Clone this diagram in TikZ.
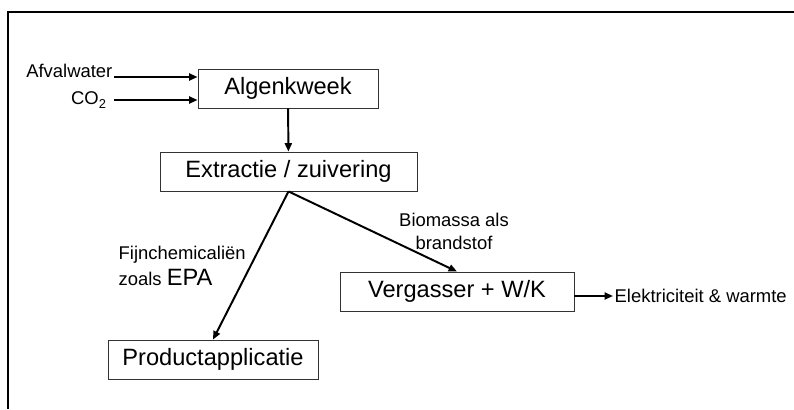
\documentclass[tikz,border=0pt]{standalone}
\usepackage{fontspec}
\setmainfont{Liberation Sans}
\usetikzlibrary{arrows.meta}

\newcommand{\grootfont}{\fontsize{16.8}{20}\selectfont}
\newcommand{\kleinfont}{\fontsize{13.1}{18}\selectfont}

\begin{document}
\begin{tikzpicture}[x=0.025cm,y=-0.025cm,
  blok/.style={draw=black!80,line width=0.6pt,minimum height=0.975cm,inner sep=0pt,font=\grootfont},
  tekst/.style={inner sep=1pt,font=\kleinfont},
  pijl/.style={line width=1.4pt,-{Triangle[length=6pt,width=5pt]}}]

	\useasboundingbox (0,0) rectangle (794,409);

	% Kader
	\draw [line width=1.6pt] (8,409) -- (8,12) -- (794,12);

	% Blokken
	\node [blok,minimum width=4.5cm] (alg) at (288,88.5) {Algenkweek};
	\node [blok,minimum width=6.425cm] (ext) at (288.5,171.5) {Extractie / zuivering};
	\node [blok,minimum width=5.25cm] (prod) at (213,359.5) {Productapplicatie};
	\node [blok,minimum width=5.85cm] (verg) at (457,291.5) {Vergasser + W/K};

	% Teksten
	\node [tekst,anchor=base east] (afval) at (114,77) {Afvalwater};
	\node [tekst,anchor=east,inner xsep=5pt] (co2) at (114,100) {CO\textsubscript{2}};
	\node [tekst,anchor=west,align=left] (fijn) at (117,266) {Fijnchemicaliën\\zoals {\grootfont EPA}};
	\node [tekst,align=center,font=\fontsize{13.1}{16.3}\selectfont] (bio) at (454,231) {Biomassa als\\brandstof};
	\node [tekst,anchor=west] (elek) at (613,296) {Elektriciteit \& warmte};

	% Pijlen
	\draw [pijl] (afval.base east) -- (alg.west |- afval.base east);
	\draw [pijl] (co2.east) -- (alg.west |- co2.east);
	\draw [pijl] (alg) -- (ext);
	\draw [pijl] (ext.south) -- (prod.north);
	\draw [pijl] (ext.south) -- (verg.north);
	\draw [pijl] (verg.east |- elek.west) -- (elek.west);
\end{tikzpicture}
\end{document}
